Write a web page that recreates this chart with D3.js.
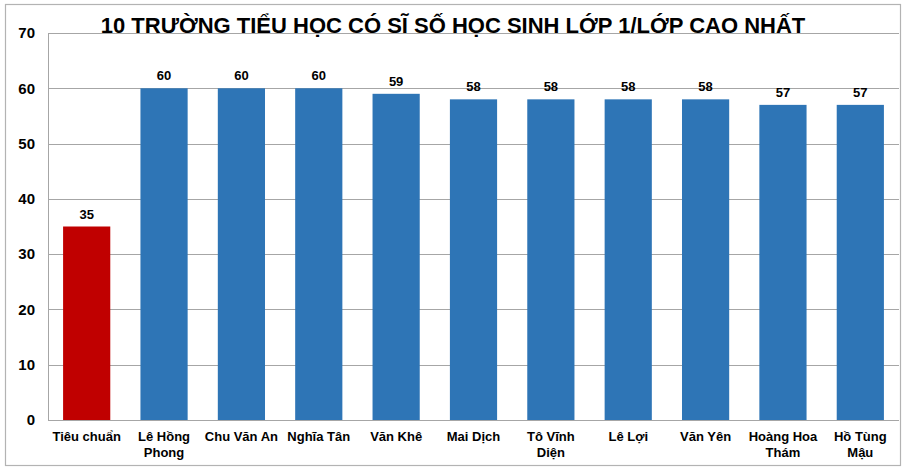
<!DOCTYPE html>
<html><head><meta charset="utf-8">
<script src="https://cdn.jsdelivr.net/npm/d3@7"></script>
<style>
body{margin:0;background:#fff;}
svg{display:block;font-family:"Liberation Sans",Arial,sans-serif;}
</style></head>
<body><svg id="c" width="908" height="473"></svg>
<script>
const categories = [["Tiêu chuẩn"],["Lê Hồng","Phong"],["Chu Văn An"],["Nghĩa Tân"],["Văn Khê"],["Mai Dịch"],["Tô Vĩnh","Diện"],["Lê Lợi"],["Văn Yên"],["Hoàng Hoa","Thám"],["Hồ Tùng","Mậu"]];
const values = [35,60,60,60,59,58,58,58,58,57,57];
const yTicks = [0,10,20,30,40,50,60,70];
const title = "10 TRƯỜNG TIỂU HỌC CÓ SĨ SỐ HỌC SINH LỚP 1/LỚP CAO NHẤT";

const svg = d3.select("#c");
const L=48, R=899, T=33, B=420;
svg.append("rect").attr("x",5.5).attr("y",4.5).attr("width",895).attr("height",461)
  .attr("fill","#fff").attr("stroke","#b3b3b3").attr("stroke-width",1.2);

const x = d3.scaleBand().domain(d3.range(categories.length)).range([L,R]).paddingInner(0.39).paddingOuter(0.195);
const y = d3.scaleLinear().domain([0,70]).range([B,T]);

svg.append("g").selectAll("line").data(yTicks).join("line")
  .attr("x1",L).attr("x2",R).attr("y1",d=>Math.round(y(d))+0.5).attr("y2",d=>Math.round(y(d))+0.5)
  .attr("stroke","#a6a6a6").attr("stroke-width",1);
svg.append("line").attr("x1",L+0.5).attr("x2",L+0.5).attr("y1",T).attr("y2",B).attr("stroke","#a6a6a6");

const yAxis = d3.axisLeft(y).tickValues(yTicks).tickSize(0).tickPadding(13);
const ya = svg.append("g").attr("transform",`translate(${L},0)`).call(yAxis);
ya.select(".domain").remove();
ya.selectAll("text").attr("font-size",15).attr("font-weight","bold").attr("fill","#000")
  .attr("font-family","'Liberation Sans',Arial,sans-serif");

svg.append("g").selectAll("rect").data(values).join("rect")
  .attr("x",(d,i)=>x(i)).attr("width",x.bandwidth())
  .attr("y",d=>y(d)).attr("height",d=>B-y(d))
  .attr("fill",(d,i)=>i===0?"#c00000":"#2e75b6");

svg.append("g").selectAll("text").data(values).join("text")
  .attr("x",(d,i)=>x(i)+x.bandwidth()/2).attr("y",d=>y(d)-8)
  .attr("text-anchor","middle").attr("font-size",13).attr("font-weight","bold").text(d=>d);

const xg = svg.append("g");
categories.forEach((lines,i)=>{
  const t = xg.append("text").attr("text-anchor","middle").attr("font-size",13).attr("font-weight","bold")
    .attr("x",x(i)+x.bandwidth()/2).attr("y",441);
  lines.forEach((ln,j)=>t.append("tspan").attr("x",x(i)+x.bandwidth()/2).attr("dy",j===0?0:15.5).text(ln));
});

svg.append("text").attr("x",453).attr("y",33).attr("text-anchor","middle")
  .attr("font-size",22).attr("font-weight","bold").text(title);
</script></body></html>
